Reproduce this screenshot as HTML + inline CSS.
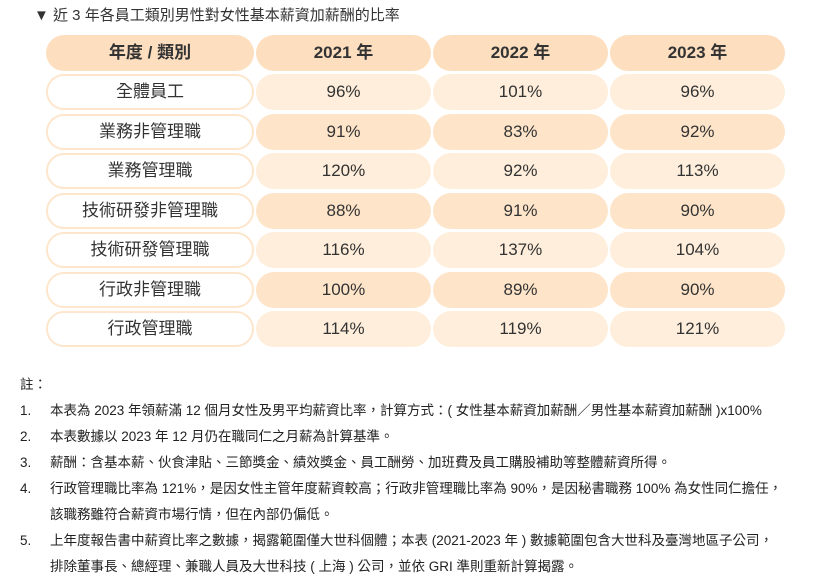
<!DOCTYPE html>
<html><head><meta charset="utf-8"><style>
body{margin:0;width:822px;height:586px;background:#fff;font-family:"Liberation Sans","Noto Sans CJK TC",sans-serif;color:#333;position:relative;overflow:hidden}
.t{position:absolute;left:34px;top:4px;font-size:15px;color:#333}
.c{position:absolute;height:36px;line-height:36px;text-align:center;border-radius:18px;font-size:17px;box-sizing:border-box}
.h{background:#fddfc0;font-weight:bold;font-size:17px}
.f{background:#fff;border:2px solid #fde6cc;line-height:32px}
.l{background:#feeedb}
.d{background:#fee5c9}
.notes{position:absolute;left:20px;top:372px;font-size:13.5px;line-height:26px;color:#222}
.notes .n{display:flex}.notes .n span:first-child{width:30px;flex:none}
</style></head><body>
<div class="t">▼ 近 3 年各員工類別男性對女性基本薪資加薪酬的比率</div>
<div id="tbl"></div>
<div class="notes">
<div>註：</div>
<div class="n"><span>1.</span><span>本表為 2023 年領薪滿 12 個月女性及男平均薪資比率，計算方式：( 女性基本薪資加薪酬／男性基本薪資加薪酬 )x100%</span></div>
<div class="n"><span>2.</span><span>本表數據以 2023 年 12 月仍在職同仁之月薪為計算基準。</span></div>
<div class="n"><span>3.</span><span>薪酬：含基本薪、伙食津貼、三節獎金、績效獎金、員工酬勞、加班費及員工購股補助等整體薪資所得。</span></div>
<div class="n"><span>4.</span><span>行政管理職比率為 121%，是因女性主管年度薪資較高；行政非管理職比率為 90%，是因秘書職務 100% 為女性同仁擔任，<br>該職務雖符合薪資市場行情，但在內部仍偏低。</span></div>
<div class="n"><span>5.</span><span>上年度報告書中薪資比率之數據，揭露範圍僅大世科個體；本表 (2021-2023 年 ) 數據範圍包含大世科及臺灣地區子公司，<br>排除董事長、總經理、兼職人員及大世科技 ( 上海 ) 公司，並依 GRI 準則重新計算揭露。</span></div>
</div>
<script>
const headers=["年度 / 類別","2021 年","2022 年","2023 年"];
const categories=["全體員工","業務非管理職","業務管理職","技術研發非管理職","技術研發管理職","行政非管理職","行政管理職"];
const v2021=[96,91,120,88,116,100,114];
const v2022=[101,83,92,91,137,89,119];
const v2023=[96,92,113,90,104,90,121];
const tbl=document.getElementById('tbl');
const colX=[46,256,433,610],colW=[208,175,175,175];
function cell(x,y,w,cls,txt,name){const d=document.createElement('div');d.className='c '+cls;d.style.left=x+'px';d.style.top=y+'px';d.style.width=w+'px';d.textContent=txt;


tbl.appendChild(d);}
headers.forEach((h,i)=>cell(colX[i],35,colW[i],'h',h,'header-cell'));
const series=[v2021,v2022,v2023];
categories.forEach((c,r)=>{const y=74+r*39.5;
cell(colX[0],y,colW[0],'f',c,'category-cell');
series.forEach((s,j)=>cell(colX[j+1],y,colW[j+1],r%2?'d':'l',s[r]+'%','value-cell'));});
</script>
</body></html>
